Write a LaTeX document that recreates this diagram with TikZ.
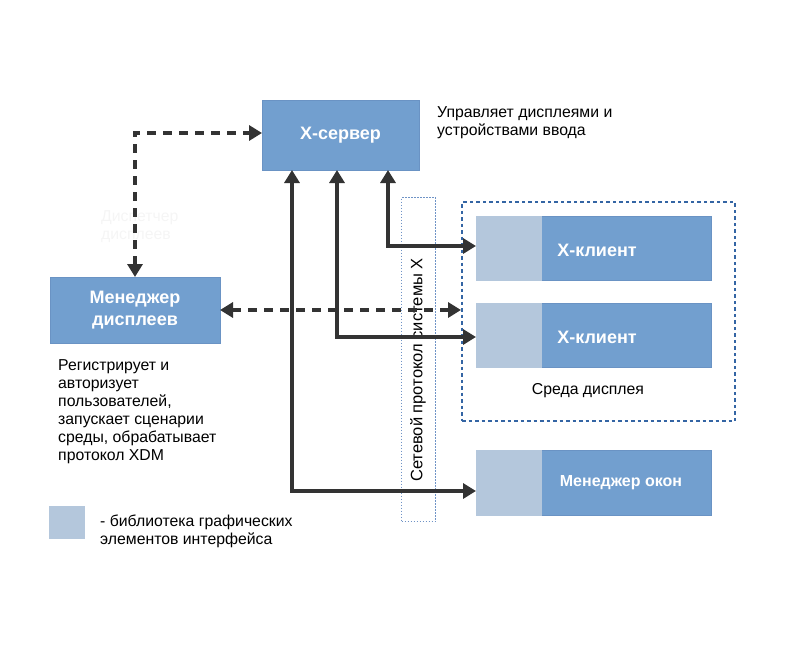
\documentclass[tikz,border=0pt]{standalone}
\usepackage{fontspec}
\setmainfont{Liberation Sans}
\usetikzlibrary{arrows.meta}
\definecolor{boxdark}{HTML}{729FCF}
\definecolor{boxlight}{HTML}{B4C7DC}
\definecolor{boxedge}{HTML}{6A93C4}
\definecolor{envblue}{HTML}{3465A4}
\definecolor{netblue}{HTML}{6F93C6}
\definecolor{arrowc}{HTML}{333333}
\definecolor{faint}{HTML}{F5F5F5}
\tikzset{
  darkbox/.style={draw=boxedge, line width=0.6pt, fill=boxdark, inner sep=0pt, outer sep=0pt, anchor=north west, text=white, font=\fontsize{18}{22}\selectfont\bfseries, align=center},
  libbox/.style={draw=boxlight, line width=0.6pt, fill=boxlight, inner sep=0pt, outer sep=0pt, anchor=north west},
  whitelabel/.style={text=white, font=\fontsize{18}{21}\selectfont\bfseries, inner sep=0pt},
  desc/.style={anchor=north west, inner sep=0pt, align=left, font=\fontsize{15.8}{18}\selectfont, text=black},
  solidarr/.style={draw=arrowc, line width=4pt, {Triangle[length=13pt,width=15pt]}-{Triangle[length=13pt,width=15pt]}},
  dasharr/.style={draw=arrowc, line width=4pt, dash pattern=on 9pt off 7pt, {Triangle[length=13pt,width=15pt]}-{Triangle[length=13pt,width=15pt]}},
}
\begin{document}
\begin{tikzpicture}[x=1pt,y=-1pt]
\useasboundingbox (0,0) rectangle (794,650);

% network protocol box
\node[draw=netblue, line width=1pt, dash pattern=on 1.5pt off 1.5pt, minimum width=34pt, minimum height=324pt, inner sep=0pt, anchor=north west] (net) at (401,197) {};
\node[rotate=90, inner sep=0pt, font=\fontsize{16.5}{18}\selectfont] (netlbl) at (418,370) {Сетевой протокол системы X};

% display environment box
\node[draw=envblue, line width=2pt, dash pattern=on 3.5pt off 3pt, minimum width=273pt, minimum height=219pt, inner sep=0pt, anchor=north west] (env) at (461,201) {};

% X server
\node[darkbox, minimum width=157pt, minimum height=70pt] (xs) at (262,100) {X-сервер};
\node[desc] (xsdesc) at (437,106) {Управляет дисплеями и\\устройствами ввода};

% display manager
\node[darkbox, minimum width=170pt, minimum height=66pt] (dm) at (50,277) {Менеджер\\дисплеев};
\node[desc] (dmdesc) at (58,359) {Регистрирует и\\авторизует\\пользователей,\\запускает сценарии\\среды, обрабатывает\\протокол XDM};
\node[desc, text=faint] (faintlbl) at (101,210) {Диспетчер\\дисплеев};

% clients
\node[darkbox, minimum width=170pt, minimum height=64pt] (c1) at (541,216) {};
\node[libbox, minimum width=65pt, minimum height=64pt] (c1l) at (476,216) {};
\node[whitelabel] (c1t) at (597,250) {X-клиент};

\node[darkbox, minimum width=170pt, minimum height=64pt] (c2) at (541,303) {};
\node[libbox, minimum width=65pt, minimum height=64pt] (c2l) at (476,303) {};
\node[whitelabel] (c2t) at (597,337) {X-клиент};

\node[inner sep=0pt, font=\fontsize{15.8}{18}\selectfont] (envlbl) at (588,391) {Среда дисплея};

% window manager
\node[darkbox, minimum width=170pt, minimum height=65pt] (wm) at (541,450) {};
\node[libbox, minimum width=65pt, minimum height=65pt] (wml) at (476,450) {};
\node[whitelabel, font=\fontsize{16}{18}\selectfont\bfseries] (wmt) at (621,483) {Менеджер окон};

% legend
\node[libbox, minimum width=35pt, minimum height=32pt] (leg) at (49,506) {};
\node[desc] (legtxt) at (100,515) {- библиотека графических\\элементов интерфейса};

% connectors
\coordinate (p1) at (292,491);
\coordinate (p2) at (337,337);
\coordinate (p3) at (388,246);
\draw[solidarr] (xs.south -| p1) -- (p1) -- (wml.west |- p1);
\draw[solidarr] (xs.south -| p2) -- (p2) -- (c2l.west |- p2);
\draw[solidarr] (xs.south -| p3) -- (p3) -- (c1l.west |- p3);

\coordinate (d1) at (135,133);
\draw[dasharr] (dm.north) -- (d1) -- (xs.west |- d1);
\draw[dasharr] (dm.east) -- (env.west |- dm.east);
\end{tikzpicture}
\end{document}
